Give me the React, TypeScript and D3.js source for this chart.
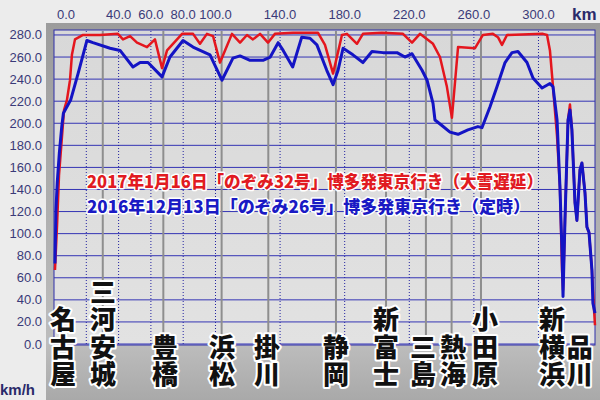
import React from 'react';
import * as d3 from 'd3';

const W = 600;
const H = 400;

// 定時 (blue) run: km from Nagoya, speed in km/h
const blueKm = [0.6, 1.2, 2.0, 3.3, 4.8, 5.8, 8.0, 10.3, 14.9, 20.4, 24.1, 34.7, 40.9, 48.9, 53.3, 58.2, 66.9, 71.8, 79.9, 86.1, 96.6, 104.0, 110.8, 115.2, 121.4, 129.4, 133.9, 138.8, 141.9, 147.8, 153.4, 158.5, 162.8, 168.9, 172.8, 175.9, 179.0, 185.1, 191.3, 196.9, 203.7, 212.4, 217.3, 221.7, 227.9, 231.0, 234.7, 235.9, 240.2, 245.2, 250.2, 256.3, 262.5, 265.0, 270.0, 274.3, 279.3, 283.6, 287.3, 292.9, 296.6, 302.2, 307.1, 309.0, 311.5, 313.3, 314.6, 315.2, 316.4, 318.3, 319.5, 320.7, 322.6, 323.8, 325.7, 326.9, 328.8, 330.0, 331.3, 333.1, 333.7, 335];
const blueSpeed = [73, 121, 146, 173, 197, 209, 215, 221, 245, 275, 273, 268, 266, 251, 255, 255, 242, 260, 275, 269, 262, 239, 259, 261, 257, 257, 260, 273, 266, 251, 278, 277, 271, 248, 235, 248, 268, 262, 255, 265, 264, 264, 260, 263, 248, 239, 218, 203, 198, 192, 190, 194, 197, 196, 215, 233, 255, 264, 265, 255, 241, 232, 236, 233, 203, 142, 82, 43, 112, 203, 212, 194, 128, 112, 158, 164, 137, 106, 101, 67, 37, 28];

// 大雪遅延 (red) run
const redKm = [0.6, 1.9, 3.1, 5.0, 6.2, 8.0, 9.9, 11.1, 13.0, 18.0, 28.5, 39.6, 42.7, 47.1, 51.4, 57.6, 62.5, 66.9, 70.0, 79.3, 86.1, 90.4, 94.7, 98.5, 102.8, 105.9, 110.2, 115.2, 119.5, 123.2, 127.6, 132.5, 136.8, 148.0, 163.5, 167.8, 172.8, 178.3, 181.4, 187.6, 191.3, 203.1, 216.1, 221.7, 226.6, 234.7, 239.0, 243.3, 246.4, 250.2, 260.7, 265.6, 271.8, 274.9, 277.4, 280.5, 302.8, 305.3, 307.1, 309.0, 311.5, 313.3, 314.6, 315.2, 316.4, 318.3, 319.5, 320.7, 322.6, 323.8, 325.7, 326.9, 328.8, 330.0, 331.3, 333.1, 334.4, 335];
const redSpeed = [67, 108, 153, 189, 212, 221, 239, 262, 276, 280, 280, 281, 276, 279, 273, 269, 276, 250, 266, 281, 281, 272, 281, 279, 255, 266, 281, 273, 280, 276, 281, 273, 281, 282, 282, 271, 245, 280, 281, 272, 281, 282, 281, 273, 281, 272, 260, 233, 205, 269, 268, 280, 281, 278, 271, 280, 281, 280, 266, 233, 188, 142, 67, 49, 112, 203, 217, 194, 128, 112, 158, 164, 137, 106, 101, 67, 31, 17];

const xTickLabels = [0, 40, 60, 80, 100, 140, 180, 220, 260, 300];
const xDottedKm = [20, 40, 60, 80, 100, 140, 180, 220, 260, 300];
const yTicks = d3.range(0, 281, 20);

const stationNames = ['名古屋', '三河安城', '豊橋', '浜松', '掛川', '静岡', '新富士', '三島', '熱海', '小田原', '新横浜', '品川'];
const stationLabelKm = [5.6, 30.3, 68.7, 104, 131.9, 174.6, 205.6, 228.5, 247.1, 266.9, 308.4, 325.5];
const stationLineKm = [30.2, 67.7, 103.8, 132.7, 174.6, 205.6, 230.3, 246.2, 264.4];

const legendTexts = [
  '2017年1月16日「のぞみ32号」博多発東京行き（大雪遅延）',
  '2016年12月13日「のぞみ26号」博多発東京行き（定時）',
];
const legendColors = ['#e11b22', '#1a1ac4'];
const legendWidths = [456, 443];

const x = d3.scaleLinear().domain([0, 335]).range([54, 595]);
const y = d3.scaleLinear().domain([0, 284.5]).range([344, 30]);

const line = d3.line<[number, number]>()
  .x(d => x(d[0]))
  .y(d => y(d[1]));

const axisFont = '"Liberation Sans", Arial, sans-serif';
const jpFont = '"Noto Sans CJK JP", "Noto Sans CJK SC", sans-serif';

export default function App() {
  const bluePts = blueKm.map((k, i) => [k, blueSpeed[i]] as [number, number]);
  const redPts = redKm.map((k, i) => [k, redSpeed[i]] as [number, number]);

  return (
    <svg width={W} height={H} style={{ position: 'absolute', left: 0, top: 0 }}>
      <defs>
        <linearGradient id="frameGrad" x1="0" y1="0" x2="0" y2="1">
          <stop offset="0" stopColor="#9c9c9c" />
          <stop offset="0.85" stopColor="#bdbdbd" />
          <stop offset="1" stopColor="#a9a9a9" />
        </linearGradient>
        <linearGradient id="plotGrad" x1="0" y1="0" x2="0" y2="1">
          <stop offset="0" stopColor="#d8d8d8" />
          <stop offset="1" stopColor="#e2e2e2" />
        </linearGradient>
      </defs>

      <rect x={0} y={0} width={W} height={H} fill="#ececec" />
      <rect x={46} y={23} width={W - 46} height={H - 23} fill="url(#frameGrad)" />
      <rect x={54} y={30} width={541} height={315} fill="url(#plotGrad)" stroke="#2f2fa8" strokeWidth={1} />

      {/* horizontal grid */}
      {yTicks.map(t => (
        <line key={'h' + t} x1={54} x2={595} y1={y(t)} y2={y(t)} stroke="#3434b4" strokeWidth={1} />
      ))}

      {/* station lines */}
      {stationLineKm.map(k => (
        <line key={'s' + k} x1={x(k)} x2={x(k)} y1={31} y2={y(0)} stroke="#8e8e8e" strokeWidth={2} />
      ))}

      {/* km dotted lines */}
      {xDottedKm.map(k => (
        <line key={'d' + k} x1={x(k)} x2={x(k)} y1={31} y2={y(0)} stroke="#2222a0" strokeWidth={1} strokeDasharray="1,2" />
      ))}

      {/* top axis labels */}
      {xTickLabels.map(k => (
        <text key={'xl' + k} x={k === 0 ? x(k) + 3 : x(k)} y={19} textAnchor={k === 0 ? 'start' : 'middle'}
          fontFamily={axisFont} fontSize={13} fill="#3a3a78">{k.toFixed(1)}</text>
      ))}
      <text x={572} y={20} fontFamily={axisFont} fontSize={17} fontWeight="bold" fill="#2a2a6a">km</text>

      {/* left axis labels */}
      {yTicks.map(t => (
        <text key={'yl' + t} x={42} y={y(t)} textAnchor="end" dominantBaseline="central"
          fontFamily={axisFont} fontSize={13} fill="#3a3a78">{t.toFixed(1)}</text>
      ))}
      <text x={0} y={395} fontFamily={axisFont} fontSize={15} fontWeight="bold" fill="#2a2a6a">km/h</text>

      {/* speed traces */}
      <path d={line(redPts) || ''} fill="none" stroke="#e4161e" strokeWidth={2.5} strokeLinejoin="round" />
      <path d={line(bluePts) || ''} fill="none" stroke="#1414c4" strokeWidth={3} strokeLinejoin="round" />

      {/* legend */}
      {legendTexts.map((t, i) => (
        <text key={'lg' + i} x={87} y={180 + i * 25} dominantBaseline="central" fontFamily={jpFont}
          fontSize={17} fontWeight={900} fill={legendColors[i]} stroke="#ffffff" strokeWidth={3}
          paintOrder="stroke" strokeLinejoin="round" textLength={legendWidths[i]} lengthAdjust="spacingAndGlyphs">{t}</text>
      ))}

      {/* station names, written vertically, bottom-aligned */}
      {stationNames.map((name, i) => (
        <text key={name} x={x(stationLabelKm[i])} y={389} textAnchor="end"
          style={{ writingMode: 'vertical-rl', letterSpacing: '1.5px' }}
          fontFamily={jpFont} fontSize={26} fontWeight={900} fill="#111111"
          stroke="#ffffff" strokeWidth={4} paintOrder="stroke" strokeLinejoin="round">{name}</text>
      ))}
    </svg>
  );
}
